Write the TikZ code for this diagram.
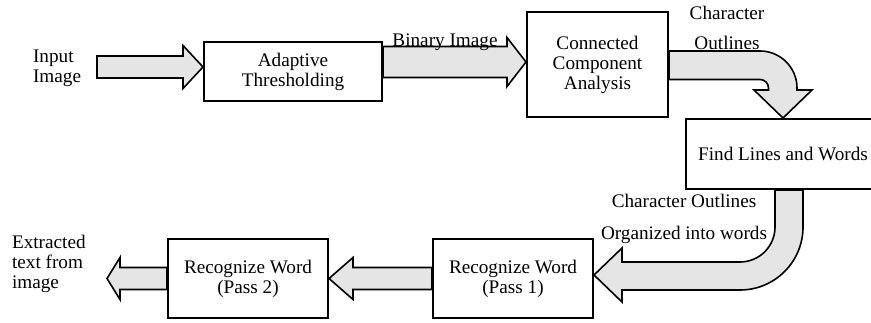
\documentclass[tikz,border=0pt]{standalone}
\usepackage{fontspec}
\setmainfont{Liberation Serif}
\usetikzlibrary{calc}

\newcommand\fatarrow[5]{%
  \draw[fat] ($(#1 |- #2)+(0,#3)$) -- ($(#2)+({-(#5)},#3)$) -- ($(#2)+({-(#5)},#4)$) -- (#2)
    -- ($(#2)+({-(#5)},-#4)$) -- ($(#2)+({-(#5)},-#3)$) -- ($(#1 |- #2)+(0,-#3)$) -- cycle;}

\begin{document}
\begin{tikzpicture}
  [x=0.5pt,y=0.5pt,every node/.style={font=\fontsize{9.6}{10}\selectfont,align=center},
   box/.style={draw,line width=1pt,inner sep=0pt},
   fat/.style={draw,line width=0.8pt,fill=gray!20,line join=miter}]
  \useasboundingbox (0,0) rectangle (871,322);
  \clip (0,0) rectangle (871,322);

  \node[box,minimum width=89pt,minimum height=29.5pt] (adapt) at (293,250.5) {Adaptive\\Thresholding};
  \node[box,minimum width=70.5pt,minimum height=52.5pt] (conn) at (597.5,257.5) {Connected\\Component\\Analysis};
  \node[box,minimum width=97pt,minimum height=35pt] (find) at (783,168) {Find Lines and Words};
  \node[box,minimum width=80pt,minimum height=39.5pt] (pass1) at (513,43.5) {Recognize Word\\(Pass 1)};
  \node[box,minimum width=80pt,minimum height=39.5pt] (pass2) at (248,43.5) {Recognize Word\\(Pass 2)};

  \coordinate (inTail) at (97,255);
  \coordinate (inTip) at (adapt.west |- inTail);
  \coordinate (binTail) at ($(adapt.east)+(0,9.5)$);
  \coordinate (binTip) at (conn.west |- binTail);
  \coordinate (outTip) at (107,43.5);

  \foreach \from/\to/\s/\h/\l in {inTail/inTip/11/21.5/20,binTail/binTip/15.5/24.5/19,
      pass1.west/pass2.east/11/21/-24,pass2.west/outTip/11/21/-13}
    \fatarrow{\from}{\to}{\s}{\h}{\l};

  \draw[fat] ($(conn.east)+(0,13.5)$) -- (760,271) arc[start angle=90,end angle=0,radius=37]
    -- (797,232) -- (812,232) -- (find.north) -- (754,232) -- (768.5,232) -- (768.5,234)
    arc[start angle=0,end angle=90,radius=8.5] -- ($(conn.east)+(0,-15)$) -- cycle;
  \draw[fat] ($(find.south)+(20,0)$) -- (803,95) arc[start angle=0,end angle=-90,radius=63]
    -- (622,32) -- (622,20) -- ($(pass1.east)+(0,3.5)$) -- (622,74) -- (622,60) -- (740,60)
    arc[start angle=-90,end angle=0,radius=35] -- ($(find.south)+(-8,0)$) -- cycle;

  \node[anchor=west,align=left] (input) at (26,254) {Input\\Image};
  \node (binary) at (445,280) {Binary Image};
  \node (outl) at (727,294) {Character\\[5pt]Outlines};
  \node (words) at (684,103) {Character Outlines\\[6pt]Organized into words};
  \node[anchor=west,align=left] (result) at (5,58) {Extracted\\text from\\image};
\end{tikzpicture}
\end{document}
